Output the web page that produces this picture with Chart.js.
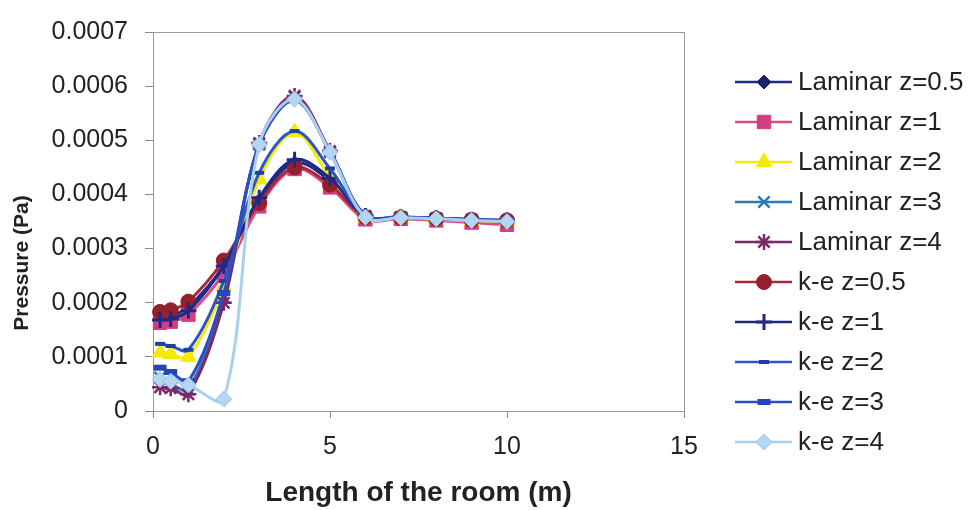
<!DOCTYPE html>
<html>
<head>
<meta charset="utf-8">
<script src="https://cdn.jsdelivr.net/npm/chart.js@4.4.0/dist/chart.umd.min.js"></script>
<style>
  html, body { margin: 0; padding: 0; background: #ffffff; }
  #wrap { width: 972px; height: 510px; }
</style>
</head>
<body>
<div id="wrap"><canvas id="c" width="972" height="510"></canvas></div>
<script>
// Positions along the room (m)
const xPositions = [0.2, 0.5, 1, 2, 3, 4, 5, 6, 7, 8, 9, 10];

// Pressure (Pa) per series
const laminarZ05 = [0.000172, 0.000175, 0.000192, 0.000268, 0.000388, 0.000458, 0.000425, 0.000358, 0.000357, 0.000355, 0.000352, 0.000351];
const laminarZ1  = [0.000163, 0.000165, 0.000178, 0.000255, 0.000378, 0.000447, 0.000413, 0.000354, 0.000355, 0.000352, 0.000348, 0.000344];
const laminarZ2  = [0.000108, 0.000105, 0.000100, 0.000230, 0.000428, 0.000515, 0.000432, 0.000357, 0.000357, 0.000354, 0.000352, 0.000350];
const laminarZ3  = [0.000062, 0.000050, 0.000040, 0.000210, 0.000492, 0.000580, 0.000478, 0.000360, 0.000358, 0.000356, 0.000353, 0.000351];
const laminarZ4  = [0.000044, 0.000042, 0.000031, 0.000200, 0.000495, 0.000582, 0.000480, 0.000360, 0.000358, 0.000356, 0.000353, 0.000351];
const keZ05      = [0.000183, 0.000186, 0.000202, 0.000278, 0.000384, 0.000450, 0.000418, 0.000358, 0.000357, 0.000355, 0.000353, 0.000352];
const keZ1       = [0.000168, 0.000170, 0.000185, 0.000268, 0.000394, 0.000464, 0.000430, 0.000360, 0.000358, 0.000356, 0.000353, 0.000352];
const keZ2       = [0.000124, 0.000120, 0.000113, 0.000240, 0.000440, 0.000517, 0.000448, 0.000360, 0.000358, 0.000356, 0.000354, 0.000352];
const keZ3       = [0.000080, 0.000072, 0.000055, 0.000218, 0.000490, 0.000574, 0.000480, 0.000361, 0.000359, 0.000356, 0.000354, 0.000352];
const keZ4       = [0.000058, 0.000055, 0.000048, 0.000022, 0.000492, 0.000576, 0.000478, 0.000358, 0.000357, 0.000355, 0.000352, 0.000350];

const seriesNames = ['Laminar z=0.5', 'Laminar z=1', 'Laminar z=2', 'Laminar z=3', 'Laminar z=4',
                     'k-e z=0.5', 'k-e z=1', 'k-e z=2', 'k-e z=3', 'k-e z=4'];
const seriesValues = [laminarZ05, laminarZ1, laminarZ2, laminarZ3, laminarZ4, keZ05, keZ1, keZ2, keZ3, keZ4];

const xTickValues = [0, 5, 10, 15];
const yTickLabels = ['0', '0.0001', '0.0002', '0.0003', '0.0004', '0.0005', '0.0006', '0.0007'];
const xAxisTitle = 'Length of the room (m)';
const yAxisTitle = 'Pressure (Pa)';

// Line / marker styling per series
const styles = [
  { line: '#1f2a8c', fill: '#1a2372', edge: '#1a2372', shape: 'rectRot',   r: 7,   bw: 1 },
  { line: '#dc4a8c', fill: '#d23f80', edge: '#d23f80', shape: 'rect',      r: 9.5, bw: 1 },
  { line: '#f2ea10', fill: '#f4ec00', edge: '#f4ec00', shape: 'triangle',  r: 9,   bw: 1 },
  { line: '#2e78b6', fill: '#2e78b6', edge: '#2e78b6', shape: 'crossRot',  r: 8,   bw: 2.5 },
  { line: '#7a2868', fill: '#7a2868', edge: '#7a2868', shape: 'star',      r: 8,   bw: 2.5 },
  { line: '#a82a38', fill: '#94202c', edge: '#94202c', shape: 'circle',    r: 7.5, bw: 1 },
  { line: '#1c2a88', fill: '#1c2a88', edge: '#1c2a88', shape: 'cross',     r: 8,   bw: 3 },
  { line: '#2d55c8', fill: '#1f3fa8', edge: '#1f3fa8', shape: 'line',      r: 5,   bw: 4 },
  { line: '#2b4ec4', fill: '#2446b8', edge: '#2446b8', shape: 'line',      r: 6.5, bw: 6 },
  { line: '#a9d0ee', fill: '#b4d6f1', edge: '#9cc6ea', shape: 'rectRot',   r: 8,   bw: 1 }
];

const datasets = seriesValues.map((vals, i) => ({
  label: seriesNames[i],
  data: vals.map((v, k) => ({ x: xPositions[k], y: v })),
  borderColor: styles[i].line,
  backgroundColor: styles[i].fill,
  borderWidth: 3,
  tension: 0.35,
  pointStyle: styles[i].shape,
  pointRadius: styles[i].r,
  pointBackgroundColor: styles[i].fill,
  pointBorderColor: styles[i].edge,
  pointBorderWidth: styles[i].bw,
  pointHoverRadius: styles[i].r,
  order: seriesNames.length - i,
  clip: false
}));

const FONT = '"Liberation Sans", Arial, Helvetica, sans-serif';

// Plot frame, vertical axis title and the line+marker legend on the right
const decorations = {
  id: 'decorations',
  beforeDatasetsDraw(chart) {
    const { ctx, chartArea: a } = chart;
    ctx.save();
    ctx.strokeStyle = '#9a9a9a';
    ctx.lineWidth = 1;
    ctx.strokeRect(a.left + 0.5, a.top + 0.5, a.right - a.left, a.bottom - a.top);
    ctx.restore();
  },
  afterDraw(chart) {
    const { ctx } = chart;
    ctx.save();
    // vertical axis title
    ctx.translate(22, 263);
    ctx.rotate(-Math.PI / 2);
    ctx.font = 'bold 21px ' + FONT;
    ctx.fillStyle = '#222222';
    ctx.textAlign = 'center';
    ctx.textBaseline = 'middle';
    ctx.fillText(yAxisTitle, 0, 0);
    ctx.restore();

    // legend
    ctx.save();
    chart.data.datasets.forEach((ds, i) => {
      const y = 82 + 40 * i;
      ctx.strokeStyle = ds.borderColor;
      ctx.lineWidth = 2.5;
      ctx.beginPath();
      ctx.moveTo(735, y);
      ctx.lineTo(792, y);
      ctx.stroke();
      ctx.fillStyle = ds.pointBackgroundColor;
      ctx.strokeStyle = ds.pointBorderColor;
      ctx.lineWidth = ds.pointBorderWidth;
      Chart.helpers.drawPoint(ctx, {
        pointStyle: ds.pointStyle,
        radius: ds.pointRadius,
        rotation: 0,
        borderWidth: ds.pointBorderWidth
      }, 764, y);
      ctx.fillStyle = '#222222';
      ctx.font = '26px ' + FONT;
      ctx.textAlign = 'left';
      ctx.textBaseline = 'middle';
      ctx.fillText(ds.label, 798, y + 1);
    });
    ctx.restore();
  }
};

new Chart(document.getElementById('c'), {
  type: 'line',
  data: { datasets },
  options: {
    responsive: false,
    animation: false,
    devicePixelRatio: 1,
    layout: { padding: { top: 24, right: 288, left: 0, bottom: 0 } },
    plugins: {
      legend: { display: false },
      tooltip: { enabled: false }
    },
    scales: {
      x: {
        type: 'linear',
        min: 0,
        max: 15,
        afterBuildTicks(scale) { scale.ticks = xTickValues.map(v => ({ value: v })); },
        afterFit(scale) { scale.height = 99; },
        ticks: {
          font: { family: FONT, size: 25 },
          color: '#222222',
          padding: 14,
          maxRotation: 0,
          callback: (v) => String(v)
        },
        grid: { drawOnChartArea: false, drawTicks: true, tickLength: 7, color: '#8a8a8a', lineWidth: 1 },
        border: { display: true, color: '#8a8a8a', width: 1 },
        title: {
          display: true,
          text: xAxisTitle,
          font: { family: FONT, size: 28, weight: 'bold' },
          color: '#222222',
          padding: { top: 0, bottom: 0 }
        }
      },
      y: {
        min: 0,
        max: 0.0007,
        afterBuildTicks(scale) { scale.ticks = yTickLabels.map(t => ({ value: parseFloat(t) })); },
        afterFit(scale) { scale.width = 153; },
        ticks: {
          font: { family: FONT, size: 25 },
          color: '#222222',
          padding: 17,
          callback: (v, idx) => yTickLabels[idx]
        },
        grid: { drawOnChartArea: false, drawTicks: true, tickLength: 8, color: '#8a8a8a', lineWidth: 1 },
        border: { display: true, color: '#8a8a8a', width: 1 }
      }
    }
  },
  plugins: [decorations]
});
</script>
</body>
</html>
